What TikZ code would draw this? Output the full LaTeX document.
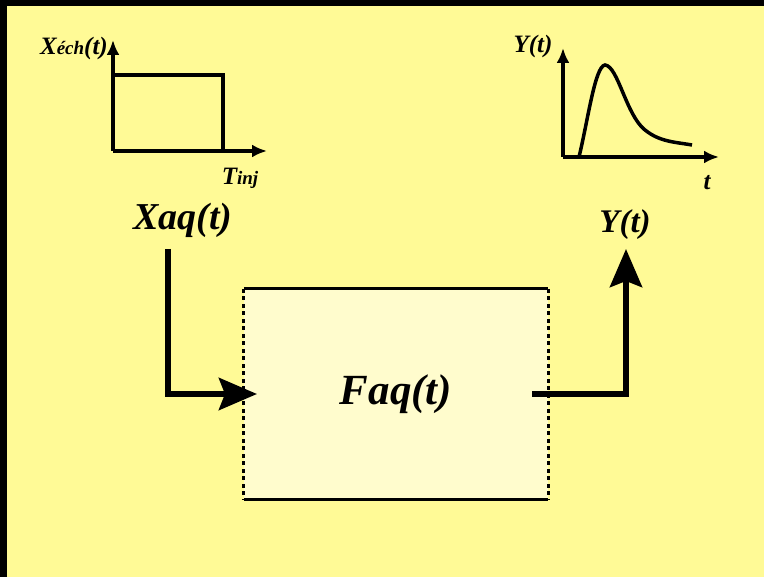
\documentclass[tikz,border=0pt]{standalone}
\usepackage{fontspec}
\setmainfont{Liberation Serif}
\usetikzlibrary{arrows.meta}
\definecolor{bgyellow}{RGB}{255,250,150}
\definecolor{boxyellow}{RGB}{255,252,205}
\tikzset{
  lbl/.style={inner sep=0pt, font=\bfseries\itshape},
  biglbl/.style={lbl, font=\fontsize{38}{42}\selectfont\bfseries\itshape},
  smalllbl/.style={lbl, font=\fontsize{25}{28}\selectfont\bfseries\itshape},
  axis/.style={line width=3.5pt, -{Latex[length=15pt,width=13pt]}},
  sig/.style={line width=3.5pt},
  flow/.style={line width=6pt, -{Stealth[length=38pt,width=32pt,inset=6pt]}},
  solidside/.style={line width=3pt},
  dotside/.style={line width=3pt, dash pattern=on 4pt off 3.5pt},
}
\begin{document}
\begin{tikzpicture}[x=1pt,y=-1pt]
\useasboundingbox (0,0) rectangle (764,577);
\fill[black] (0,0) rectangle (764,577);
\fill[bgyellow] (7,6) rectangle (764,577);

% left input graph
\coordinate (lo) at (113,151);
\coordinate (ltop) at (113,40);
\coordinate (lright) at (267,151);
\draw[axis] (lo) -- (ltop);
\draw[axis] (lo) -- (lright);
\draw[sig] (113,75) -- (223,75) -- (223,151);
\node[smalllbl, anchor=east] (xech) at (108,48) {X\fontsize{19}{21}\selectfont éch\fontsize{25}{28}\selectfont(t)};
\node[smalllbl] (tinj) at (240,178) {T\fontsize{19}{21}\selectfont inj};

% right output graph
\coordinate (ro) at (563,157);
\coordinate (rtop) at (563,48);
\coordinate (rright) at (719,157);
\draw[axis] (ro) -- (rtop);
\draw[axis] (ro) -- (rright);
\draw[sig] (579,157) .. controls (588,120) and (595,66) .. (605,65)
  .. controls (618,66) and (626,115) .. (645,130)
  .. controls (660,142) and (675,142) .. (692,145);
\node[smalllbl] (ysmall) at (533,46) {Y(t)};
\node[smalllbl] (tsmall) at (707,183) {t};

% main block
\node[biglbl] (xaq) at (183,220) {Xaq(t)};
\node[font=\fontsize{33}{36}\selectfont\bfseries\itshape, inner sep=0pt] (ybig) at (625,225) {Y(t)};
\node[fill=boxyellow, minimum width=304pt, minimum height=210pt, inner sep=0pt] (blk) at (396,394) {};
\draw[solidside] (blk.north west) -- (blk.north east);
\draw[solidside] (blk.south west) -- (blk.south east);
\draw[dotside] (blk.north west) -- (blk.south west);
\draw[dotside] (blk.north east) -- (blk.south east);
\node[lbl, font=\fontsize{43}{47}\selectfont\bfseries\itshape] (faq) at (blk.center) {Faq(t)};

\coordinate (inturn) at (168,394);
\coordinate (outturn) at (626,394);
\draw[flow] (168,249) -- (inturn) -- (257,394);
\draw[flow] (532,394) -- (outturn) -- (626,249);
\end{tikzpicture}
\end{document}
